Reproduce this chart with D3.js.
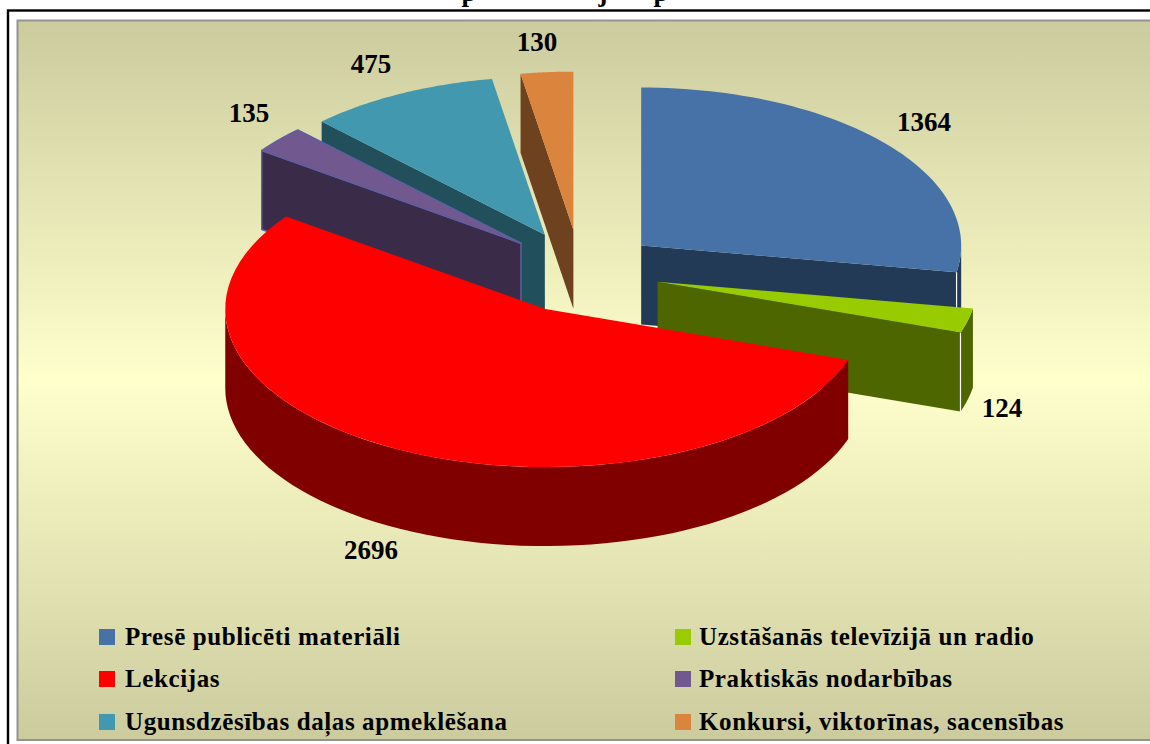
<!DOCTYPE html>
<html><head><meta charset="utf-8">
<style>html,body{margin:0;padding:0;background:#fff;overflow:hidden}svg{display:block}
text{font-family:"Liberation Serif",serif;font-weight:bold;fill:#000}</style>
<script src="https://cdn.jsdelivr.net/npm/d3@7"></script>
</head><body><svg id="c" width="1150" height="744"></svg>
<script>
const categories = ["Presē publicēti materiāli","Uzstāšanās televīzijā un radio","Lekcijas","Praktiskās nodarbības","Ugunsdzēsības daļas apmeklēšana","Konkursi, viktorīnas, sacensības"];
const values = [1364,124,2696,135,475,130];
const topColors = ["#4672a8","#99cc00","#ff0000","#71588f","#4198af","#db843d"];
const wallColors = ["#233a56","#4d6600","#800000","#3a2c48","#21505c","#6e411f"];
const edgeColors = [null,null,null,"#5f5f9f",null,null];
const cornerColors = ["#ffffff","#ffffff",null,null,null,null];
const drawOrder = [5,4,3,0,1,2];
const titleGlyphs = ["p","j","p"];
const titleX = [469,603,661];
const labelX = [924,1002,371,249,371,537];
const labelY = [131,417,559,122,73,51];
const nudgeX = [0,0,2,1.5,1,0];
const nudgeY = [0,1,3,-2,-1,-2];
const legendCols = [99,675];
const legendTextX = [26,24];
const legendRows = [637,679,722];

const svg = d3.select("#c");
const defs = svg.append("defs");
const grad = defs.append("linearGradient").attr("id","bg").attr("x1",0).attr("y1",0).attr("x2",0).attr("y2",1);
grad.append("stop").attr("offset","0").attr("stop-color","#cbcb9e");
grad.append("stop").attr("offset","0.5").attr("stop-color","#ffffcc");
grad.append("stop").attr("offset","1").attr("stop-color","#cbcb9e");

// frame
svg.append("rect").attr("x",8).attr("y",10.5).attr("width",1160).attr("height",760).attr("fill","#fff").attr("stroke","#000").attr("stroke-width",2.4);
svg.append("rect").attr("x",17.5).attr("y",20.5).attr("width",1150).attr("height",719.5).attr("fill","url(#bg)").attr("stroke","#939393").attr("stroke-width",2);

// title: only the descenders show above the frame
svg.append("g").selectAll("text").data(titleGlyphs).join("text")
  .attr("x",(d,i)=>titleX[i]).attr("y",1).attr("text-anchor","middle").attr("font-size",27).text(d=>d);

// pie geometry
const CX=580, CY=271, RX=320, RY=158, DEPTH=79, EXPLODE=80;
const k=RY/RX;
const arcs = d3.pie().sort(null).value(d=>d)(values);
const pt=(c,a,r=1,dz=0)=>[c[0]+RX*r*Math.sin(a), c[1]-RY*r*Math.cos(a)+dz];
const line=d3.line();
const HALF=Math.PI/2, TAU=Math.PI*2;
const steps=(a0,a1)=>d3.range(0,65).map(i=>a0+(a1-a0)*i/64);
const g=svg.append("g");

drawOrder.forEach(i=>{
  const a=arcs[i], mid=(a.startAngle+a.endAngle)/2;
  const c=[CX+EXPLODE*Math.sin(mid)+nudgeX[i], CY-EXPLODE*k*Math.cos(mid)+nudgeY[i]];
  const s=g.append("g");
  const edge=edgeColors[i];
  const style=p=>{ if(edge) p.attr("stroke",edge).attr("stroke-width",1.5).attr("stroke-linejoin","round"); return p; };
  const face=ang=>{
    const o=pt(c,ang);
    style(s.append("path").attr("fill",wallColors[i])
      .attr("d",line([c,o,[o[0],o[1]+DEPTH],[c[0],c[1]+DEPTH]])+"Z"));
  };
  // radial faces turned toward the viewer
  if(a.startAngle>Math.PI && a.startAngle<TAU) face(a.startAngle);
  if(a.endAngle>0 && a.endAngle<Math.PI) face(a.endAngle);
  // outer wall: front half only
  const w0=Math.max(a.startAngle,HALF), w1=Math.min(a.endAngle,3*HALF);
  if(w1>w0){
    const st=steps(w0,w1).map(t=>pt(c,t));
    const sb=steps(w0,w1).reverse().map(t=>pt(c,t,1,DEPTH));
    s.append("path").attr("fill",wallColors[i]).attr("d",line(st.concat(sb))+"Z");
  }
  if(cornerColors[i]){
    const o=pt(c,a.endAngle);
    s.append("line").attr("x1",o[0]).attr("y1",o[1]).attr("x2",o[0]).attr("y2",o[1]+DEPTH)
      .attr("stroke",cornerColors[i]).attr("stroke-width",1.2);
  }
  // top
  const tp=[c].concat(steps(a.startAngle,a.endAngle).map(t=>pt(c,t)));
  style(s.append("path").attr("fill",topColors[i]).attr("d",line(tp)+"Z"));
});

// data labels
svg.append("g").selectAll("text").data(values).join("text")
  .attr("x",(d,i)=>labelX[i]).attr("y",(d,i)=>labelY[i]).attr("text-anchor","middle")
  .attr("font-size",27).text(d=>d);

// legend
const lg=svg.append("g").selectAll("g").data(categories).join("g")
  .attr("transform",(d,i)=>`translate(${legendCols[i%2]},${legendRows[Math.floor(i/2)]})`);
lg.append("rect").attr("x",0).attr("y",-8).attr("width",16).attr("height",16).attr("fill",(d,i)=>topColors[i]);
lg.append("text").attr("x",(d,i)=>legendTextX[i%2]).attr("y",8).attr("font-size",25).attr("letter-spacing",0.6).text(d=>d);
</script></body></html>
